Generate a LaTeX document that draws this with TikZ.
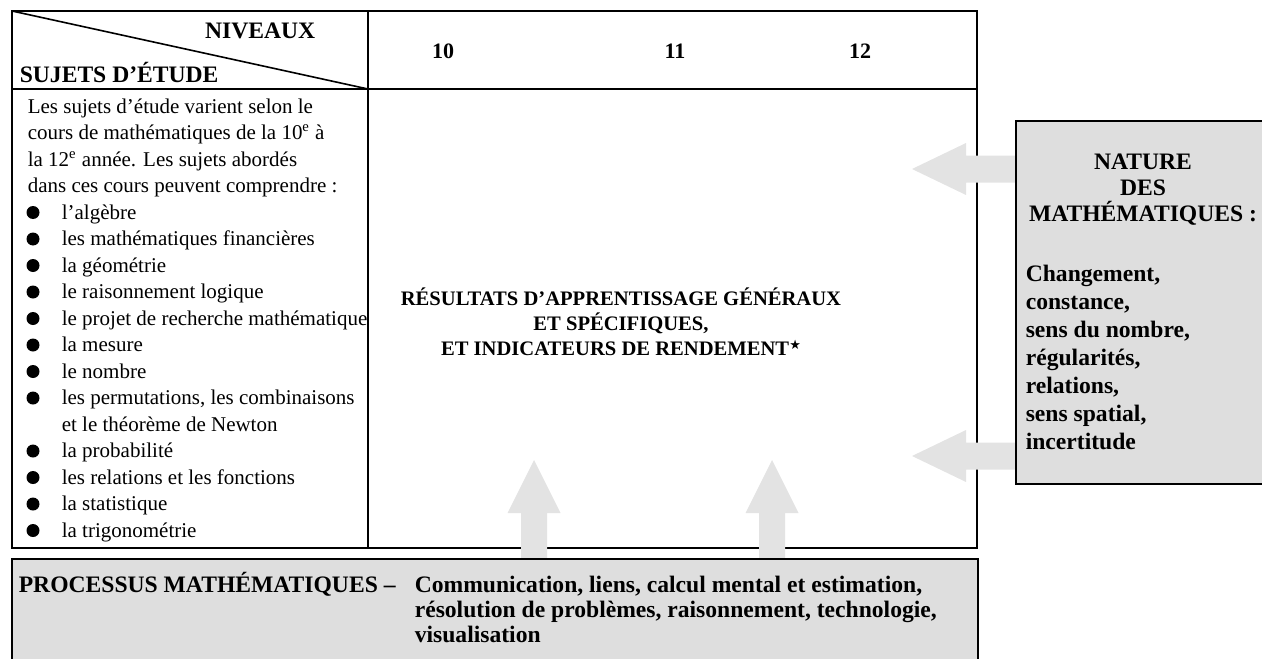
\documentclass[tikz,border=0pt]{standalone}
\usepackage{fontspec}
\setmainfont{Liberation Serif}[BoldFont={Liberation Serif Bold}]
\newfontfamily\starfont{DejaVu Sans}

\tikzset{
	body/.style={font=\fontsize{10.5}{13}\selectfont, anchor=base west, inner sep=0pt},
	bold/.style={font=\fontsize{11.8}{13.5}\selectfont\bfseries, inner sep=0pt},
	panel/.style={draw, line width=1pt, fill=black!13},
	bigarrow/.style={fill=black!11},
}

\begin{document}
\begin{tikzpicture}[x=0.5pt, y=-0.5pt, line width=0.8pt]
	\useasboundingbox (0,0) rectangle (1262,658);
	\clip (0,0) rectangle (1262,658);

	% table
	\draw[line width=1pt] (12,11) rectangle (977,548);
	\draw (12,89) -- (977,89);
	\draw (368,11) -- (368,548);
	\draw (12,11) -- (368,89);

	% header
	\node[bold, anchor=base east] (niveaux) at (316,39) {NIVEAUX};
	\node[bold, anchor=base west] (sujets) at (19,83) {SUJETS D’ÉTUDE};
	\foreach \g/\x in {10/443, 11/675, 12/860}
		\node[bold, font=\fontsize{11}{12}\selectfont\bfseries, anchor=base] (niveau\g) at (\x,59) {\g};

	% subjects
	\node[body] (intro1) at (27,113) {Les sujets d’étude varient selon le};
	\node[body] (intro2) at (27,139.5) {cours de mathématiques de la 10\textsuperscript{e} à};
	\node[body] (intro3) at (27,166) {la 12\textsuperscript{e} année. Les sujets abordés};
	\node[body] (intro4) at (27,192.5) {dans ces cours peuvent comprendre~:};
	\foreach \k/\t in {5/l’algèbre, 6/les mathématiques financières, 7/la géométrie,
		8/le raisonnement logique, 9/le projet de recherche mathématique, 10/la mesure,
		11/le nombre, 12/{les permutations, les combinaisons}, 14/la probabilité,
		15/les relations et les fonctions, 16/la statistique, 17/la trigonométrie} {
		\node[circle, fill, inner sep=0pt, minimum size=6.5] (bullet\k) at (33,106.5+26.5*\k-26.5) {};
		\node[body] (item\k) at (61,113+26.5*\k-26.5) {\t};
	}
	\node[body] (item13) at (61,431) {et le théorème de Newton};

	% outcomes
	\node[font=\fontsize{10.3}{12.5}\selectfont\bfseries, align=center] (resultats) at (621,322)
		{RÉSULTATS D’APPRENTISSAGE GÉNÉRAUX\\ET SPÉCIFIQUES,\\ET INDICATEURS DE RENDEMENT\raisebox{3.2pt}{\starfont\fontsize{6.5}{6.5}\selectfont ★}};

	% arrows
	\foreach \y in {169, 456}
		\fill[bigarrow] (1016,\y-13.5) -- ++(-50,0) -- ++(0,-12.5) -- ++(-54,26) -- ++(54,26) -- ++(0,-12.5) -- ++(50,0) -- cycle;
	\foreach \x in {534, 772}
		\fill[bigarrow] (\x-13,559) -- ++(0,-46) -- ++(-13.5,0) -- ++(26.5,-53) -- ++(26.5,53) -- ++(-13.5,0) -- ++(0,46) -- cycle;

	% nature of mathematics
	\draw[panel] (1016,121) rectangle (1300,484);
	\node[bold, anchor=base] (nature1) at (1143,169) {NATURE};
	\node[bold, anchor=base] (nature2) at (1143,195) {DES};
	\node[bold, anchor=base] (nature3) at (1143,221) {MATHÉMATIQUES~:};
	\foreach \t [count=\i] in {{Changement,}, {constance,}, {sens du nombre,}, {régularités,},
		{relations,}, {sens spatial,}, incertitude}
		\node[bold, anchor=base west] (nat\i) at (1025,253+28*\i) {\t};

	% processes
	\draw[panel] (12,559) rectangle (978,700);
	\node[bold, anchor=base west] (processus) at (18,592) {PROCESSUS MATHÉMATIQUES –};
	\node[bold, anchor=base west] (proc1) at (414,592) {Communication, liens, calcul mental et estimation,};
	\node[bold, anchor=base west] (proc2) at (414,617) {résolution de problèmes, raisonnement, technologie,};
	\node[bold, anchor=base west] (proc3) at (414,642) {visualisation};
\end{tikzpicture}
\end{document}
